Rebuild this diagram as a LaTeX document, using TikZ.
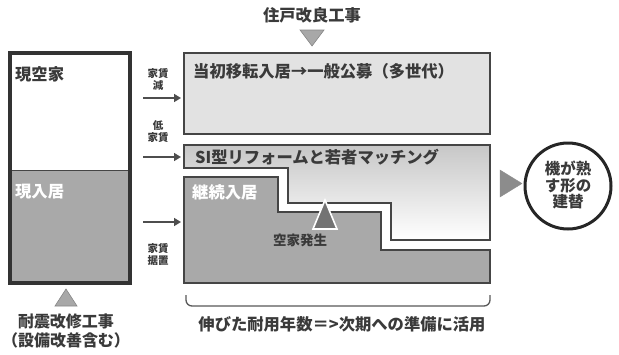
\documentclass[tikz,border=0pt]{standalone}
\usepackage{fontspec}
\setmainfont{Noto Sans CJK JP}
\usetikzlibrary{arrows.meta}
\definecolor{ink}{HTML}{3A3A3A}
\definecolor{edge}{HTML}{454545}
\definecolor{darkfill}{HTML}{A9A9A9}
\definecolor{lightfill}{HTML}{E2E2E2}
\definecolor{trifill}{HTML}{A8A8A8}
\tikzset{
  lbl/.style={font=\bfseries\fontsize{16.3}{18}\selectfont, text=ink, inner sep=0pt},
  wlbl/.style={lbl, text=white},
  small/.style={font=\bfseries\fontsize{10.5}{12}\selectfont, text=ink, inner sep=0pt},
  boxline/.style={draw=edge, line width=2.4pt},
  arr/.style={draw=ink!90, line width=1.6pt, -{Triangle[length=7pt,width=8pt]}},
}
\begin{document}
\begin{tikzpicture}[x=1pt,y=-1pt]
\useasboundingbox (0,0) rectangle (619,354);
% left box
\fill[white] (10,53) rectangle (130,170);
\fill[darkfill] (10,170) rectangle (130,283);
\draw[edge, line width=0.8pt] (10,170) -- (130,170);
\draw[draw=black!80, line width=3.4pt] (10,53) rectangle (130,283);
\node[lbl, anchor=west] (genkuu) at (15,74) {現空家};
\node[wlbl, anchor=west] (gennyu) at (15,192) {現入居};
\draw[fill=trifill, draw=trifill!80!black, line width=0.6pt] (55,306) -- (77,306) -- (66,289) -- cycle;
\node[lbl, align=center, font=\bfseries\fontsize{16}{19}\selectfont] (taishin) at (66,331) {耐震改修工事\\（設備改善含む）};

% top box
\draw[boxline, fill=lightfill] (184,53) rectangle (490,134);
\node[lbl, anchor=west] (toshotxt) at (193,71) {当初移転入居→一般公募（多世代）};
\node[lbl] (juko) at (312,15) {住戸改良工事};
\draw[fill=trifill, draw=trifill!80!black, line width=0.6pt] (300,30) -- (324,30) -- (312,46) -- cycle;

% SI shape
\path[top color=black!22, bottom color=white] (184,145) -- (490,145) -- (490,240) -- (391,240) -- (391,203) -- (288,203) -- (288,168) -- (184,168) -- cycle;
\draw[boxline, line join=miter] (184,145) -- (490,145) -- (490,240) -- (391,240) -- (391,203) -- (288,203) -- (288,168) -- (184,168) -- cycle;
\node[lbl, anchor=west] (sitxt) at (195,157) {SI型リフォームと若者マッチング};

% continuous residence
\draw[boxline, fill=darkfill, line join=miter] (184,177) -- (278,177) -- (278,212) -- (381,212) -- (381,250) -- (490,250) -- (490,283) -- (184,283) -- cycle;
\node[wlbl, anchor=west] (keizoku) at (192,192) {継続入居};
\draw[fill=black!55, draw=white, line width=1.6pt] (313,229) -- (337,229) -- (325,200) -- cycle;
\node[lbl, font=\bfseries\fontsize{13.5}{15}\selectfont] (akiya) at (300,240) {空家発生};

% arrows and their labels
\coordinate (a1s) at (143,98);  \coordinate (a1e) at (181,98);
\coordinate (a2s) at (143,157); \coordinate (a2e) at (181,157);
\coordinate (a3s) at (143,222); \coordinate (a3e) at (181,222);
\draw[arr] (a1s) -- (a1e);
\draw[arr] (a2s) -- (a2e);
\draw[arr] (a3s) -- (a3e);
\node[small, align=center] (yachin1) at (158,79) {家賃\\減};
\node[small, align=center] (yachin2) at (158,132) {低\\家賃};
\node[small, align=center] (yachin3) at (158,255) {家賃\\据置};

% brace
\draw[draw=ink!85, line width=1.3pt, rounded corners=6pt] (186,295) -- (186,306) -- (490,306) -- (490,295);
\node[lbl] (nobita) at (342,324) {伸びた耐用年数＝>次期への準備に活用};

% right arrow and circle
\draw[fill=black!45, draw=black!45] (500,170) -- (500,197) -- (522,183.5) -- cycle;
\node[draw=black!85, line width=3pt, circle, minimum size=86pt, inner sep=0pt] (circ) at (568,186) {};
\node[lbl, align=center, font=\bfseries\fontsize{15.5}{16.5}\selectfont] (kiga) at (568,185) {機が熟\\す形の\\建替};
\end{tikzpicture}
\end{document}
